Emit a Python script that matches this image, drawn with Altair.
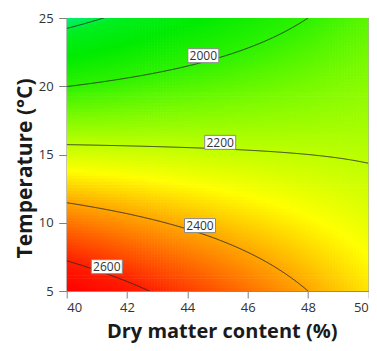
import altair as alt
import numpy as np
import pandas as pd

# ---- values ----
x_ticks = [40, 42, 44, 46, 48, 50]
y_ticks = [5, 10, 15, 20, 25]

# response read at the four corners of the design region (surface is bilinear)
corner_x = [40, 50, 40, 50]
corner_y = [5, 5, 25, 25]
corner_z = [2704, 2324, 1764, 2059]

contour_levels = [1800, 2000, 2200, 2400, 2600]
label_text = ["2000", "2200", "2400", "2600"]
label_x = [44.53, 45.09, 44.42, 41.33]
label_y = [22.24, 15.89, 9.79, 6.78]

color_values = [1764, 1820, 1900, 2000, 2100, 2200, 2290, 2400, 2500, 2600, 2704]
color_hex = ["#00f078", "#00ee1e", "#00eb00", "#2df200", "#78fa00", "#beff00",
             "#ffff00", "#ffa500", "#ff5f00", "#ff1e00", "#ff0000"]

# ---- response surface from the corner values ----
z00, z10, z01, z11 = corner_z


def response(x, y):
    u = (np.asarray(x) - corner_x[0]) / (corner_x[1] - corner_x[0])
    v = (np.asarray(y) - corner_y[0]) / (corner_y[2] - corner_y[0])
    return z00 * (1 - u) * (1 - v) + z10 * u * (1 - v) + z01 * (1 - u) * v + z11 * u * v


nx, ny = 100, 90
xe = np.linspace(40, 50, nx + 1)
ye = np.linspace(5, 25, ny + 1)
XC, YC = np.meshgrid((xe[:-1] + xe[1:]) / 2, (ye[:-1] + ye[1:]) / 2)
X0, Y0 = np.meshgrid(xe[:-1], ye[:-1])
X1, Y1 = np.meshgrid(xe[1:], ye[1:])
grid = pd.DataFrame({
    "x": X0.ravel(), "x2": X1.ravel() + 0.02,
    "y": Y0.ravel(), "y2": Y1.ravel() + 0.05,
    "z": response(XC, YC).ravel(),
})

# contour lines of the same surface (solve for y at each x)
rows = []
xs = np.linspace(40, 50, 401)
for lev in contour_levels:
    u = (xs - 40) / 10
    a = z00 * (1 - u) + z10 * u
    b = z01 * (1 - u) + z11 * u
    v = (lev - a) / (b - a)
    ys = 5 + 20 * v
    for xv, yv in zip(xs, ys):
        if 3.5 <= yv <= 26.5:
            rows.append({"x": xv, "y": yv, "level": lev})
contours = pd.DataFrame(rows)

labels = pd.DataFrame({"x": label_x, "y": label_y, "text": label_text})

FONT = "Open Sans"
xscale = alt.Scale(domain=[40, 50], nice=False, zero=False)
yscale = alt.Scale(domain=[5, 25], nice=False, zero=False)

x_axis = alt.Axis(values=x_ticks, format="d", title="Dry matter content (%)",
                  titleFont=FONT, titleFontSize=20, titleFontWeight="bold",
                  titleColor="#1a1a1a", titleX=155, titleY=46,
                  titleBaseline="alphabetic", titleAlign="center",
                  labelFont=FONT, labelFontSize=13, labelColor="#333333",
                  labelPadding=13.5, labelBaseline="alphabetic",
                  tickSize=7, tickColor="#808080", domainColor="#8c8c8c",
                  grid=False)
y_axis = alt.Axis(values=y_ticks, format="d", title="Temperature (°C)",
                  titleFont=FONT, titleFontSize=21, titleFontWeight="bold",
                  titleColor="#1a1a1a", titleX=-35, titleY=150,
                  titleBaseline="alphabetic", titleAlign="center", titleAngle=270,
                  labelFont=FONT, labelFontSize=13, labelColor="#333333",
                  labelPadding=5.5, tickSize=8, tickColor="#808080",
                  domainColor="#8c8c8c", grid=False)


def X(field="x"):
    return alt.X(f"{field}:Q", scale=xscale, axis=x_axis)


def Y(field="y"):
    return alt.Y(f"{field}:Q", scale=yscale, axis=y_axis)


surface = alt.Chart(grid).mark_rect(clip=True).encode(
    x=X(), x2="x2:Q", y=Y(), y2="y2:Q",
    color=alt.Color("z:Q", scale=alt.Scale(domain=color_values, range=color_hex,
                                           interpolate="rgb", clamp=True),
                    legend=None),
)

lines = alt.Chart(contours).mark_line(clip=True, color="#2a2a2a", strokeWidth=0.9).encode(
    x=X(), y=Y(), detail="level:N", order="x:Q",
)

boxes = alt.Chart(labels).mark_rect(width=31, height=14, fill="white",
                                     stroke="#8a8a8a", strokeWidth=1).encode(x=X(), y=Y())

texts = alt.Chart(labels).mark_text(font=FONT, fontSize=12, color="#333333",
                                    baseline="middle", align="center", dy=0.5).encode(
    x=X(), y=Y(), text="text:N")

chart = alt.layer(surface, lines, boxes, texts).properties(
    width=301.6, height=273,
    autosize=alt.AutoSizeParams(type="none"),
    padding={"left": 58.7, "top": 10, "right": 0.7, "bottom": 52},
    background="white",
).configure_view(stroke="#8c8c8c", strokeWidth=1)

chart.save("out.html", embed_options={"renderer": "svg", "actions": False})
